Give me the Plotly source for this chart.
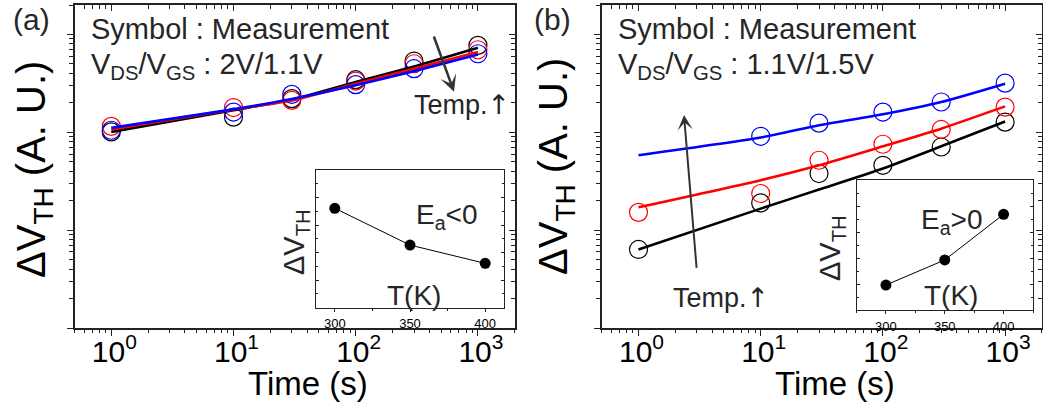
import plotly.graph_objects as go
import math

W, H = 1043, 406

# ---------------- data ----------------
time_s = [1, 10, 30, 100, 300, 1000]
time_b_blue = [10, 30, 100, 300, 1000]

a_meas_black = [1.01, 1.43, 2.21, 3.45, 5.35, 7.73]
a_meas_red = [1.15, 1.79, 2.12, 3.34, 5.02, 6.98]
a_meas_blue = [1.05, 1.61, 2.44, 3.07, 4.47, 6.35]
a_fit_black = [1.01, 1.68, 2.16, 3.26, 4.71, 7.32]
a_fit_red = [1.07, 1.71, 2.12, 3.14, 4.47, 6.60]
a_fit_blue = [1.11, 1.72, 2.19, 3.02, 4.22, 6.25]

b_meas_black = [0.0635, 0.190, 0.379, 0.460, 0.708, 1.27]
b_meas_red = [0.152, 0.237, 0.518, 0.755, 1.07, 1.81]
b_meas_blue = [0.910, 1.24, 1.61, 2.04, 3.18]
b_fit_black = [0.0635, 0.166, 0.260, 0.427, 0.719, 1.29]
b_fit_red = [0.171, 0.324, 0.460, 0.719, 1.09, 1.84]
b_fit_blue = [0.582, 0.883, 1.18, 1.53, 2.04, 3.14]

inset_temp = [300, 350, 400]
inset_a = [0.722, 0.455, 0.322]
inset_b = [0.192, 0.385, 0.736]

x_tick_vals = [1, 10, 100, 1000]
x_tick_text = ['10<sup>0</sup>', '10<sup>1</sup>', '10<sup>2</sup>', '10<sup>3</sup>']
inset_tick_vals = [300, 350, 400]
inset_tick_text = ['300', '350', '400']

# ---------------- helpers ----------------
def px(x):
    return x / W

def py(y):
    return 1 - y / H

FONT = 'Liberation Sans, Arial, sans-serif'
NARROW = 'Liberation Sans Narrow, Arial Narrow, Liberation Sans, sans-serif'
TXT = '#262626'
FRAME = '#222222'
ARROW_UP = '<span style="font-family:DejaVu Sans">↑</span>'

fig = go.Figure()

def add_meas(x, y, color, xa, ya):
    fig.add_trace(go.Scatter(x=x, y=y, mode='markers', xaxis=xa, yaxis=ya,
                             marker=dict(symbol='circle-open', size=18, color=color,
                                         line=dict(width=1.2, color=color)),
                             showlegend=False, hoverinfo='skip'))

def add_fit(x, y, color, xa, ya):
    fig.add_trace(go.Scatter(x=x, y=y, mode='lines', xaxis=xa, yaxis=ya,
                             line=dict(color=color, width=2.6, shape='spline', smoothing=0.6),
                             showlegend=False, hoverinfo='skip'))

# panel (a)
add_meas(time_s, a_meas_black, '#000000', 'x', 'y')
add_meas(time_s, a_meas_red, '#ff0000', 'x', 'y')
add_meas(time_s, a_meas_blue, '#0000ff', 'x', 'y')
add_fit(time_s, a_fit_black, '#000000', 'x', 'y')
add_fit(time_s, a_fit_red, '#ff0000', 'x', 'y')
add_fit(time_s, a_fit_blue, '#0000ff', 'x', 'y')

# panel (b)
add_meas(time_s, b_meas_black, '#000000', 'x2', 'y2')
add_meas(time_s, b_meas_red, '#ff0000', 'x2', 'y2')
add_meas(time_b_blue, b_meas_blue, '#0000ff', 'x2', 'y2')
add_fit(time_s, b_fit_black, '#000000', 'x2', 'y2')
add_fit(time_s, b_fit_red, '#ff0000', 'x2', 'y2')
add_fit(time_s, b_fit_blue, '#0000ff', 'x2', 'y2')

# insets
for xa, ya, vals in [('x3', 'y3', inset_a), ('x4', 'y4', inset_b)]:
    fig.add_trace(go.Scatter(x=inset_temp, y=vals, mode='lines+markers', xaxis=xa, yaxis=ya,
                             line=dict(color='#000000', width=1),
                             marker=dict(size=11, color='#000000'),
                             showlegend=False, hoverinfo='skip'))

# empty traces for mirrored inside-tick axes
fig.add_trace(go.Scatter(x=[], y=[], xaxis='x5', yaxis='y5', showlegend=False))
fig.add_trace(go.Scatter(x=[], y=[], xaxis='x6', yaxis='y6', showlegend=False))

XR = [math.log10(0.5), math.log10(2000)]
YR = [-2, math.log10(20)]
YDOM = [py(328), py(5)]
XDOM_A = [px(74.5), px(514.7)]
XDOM_B = [px(601.7), px(1041.9)]

def main_x(domain, anchor):
    return dict(type='log', range=XR, domain=domain, anchor=anchor,
                showline=True, linecolor=FRAME, linewidth=1.5, mirror=True,
                ticks='outside', ticklen=6, tickwidth=1.2, tickcolor=FRAME,
                tickmode='array', tickvals=x_tick_vals, ticktext=x_tick_text,
                tickfont=dict(family=FONT, size=30, color='#000000'),
                ticklabelstandoff=-10, ticklabelshift=3,
                minor=dict(ticks='outside', ticklen=3.5, tickwidth=1, tickcolor=FRAME, dtick='D1'),
                showgrid=False, zeroline=False, fixedrange=True)

def main_y(anchor):
    return dict(type='log', range=YR, domain=YDOM, anchor=anchor,
                showline=True, linecolor=FRAME, linewidth=1.5, mirror=True,
                ticks='outside', ticklen=6, tickwidth=1.2, tickcolor=FRAME,
                tickmode='linear', tick0=0, dtick=1, showticklabels=False,
                minor=dict(ticks='outside', ticklen=3.5, tickwidth=1, tickcolor=FRAME, dtick='D1'),
                showgrid=False, zeroline=False, fixedrange=True)

def mirror_x(over, anchor):
    return dict(type='log', range=XR, overlaying=over, anchor=anchor, side='top',
                showline=False, ticks='inside', ticklen=6, tickwidth=1.2, tickcolor=FRAME,
                tickmode='array', tickvals=x_tick_vals, showticklabels=False,
                minor=dict(ticks='inside', ticklen=3.5, tickwidth=1, tickcolor=FRAME, dtick='D1'),
                showgrid=False, zeroline=False, fixedrange=True)

def mirror_y(over, anchor):
    return dict(type='log', range=YR, overlaying=over, anchor=anchor, side='right',
                showline=False, ticks='inside', ticklen=6, tickwidth=1.2, tickcolor=FRAME,
                tickmode='linear', tick0=0, dtick=1, showticklabels=False,
                minor=dict(ticks='inside', ticklen=3.5, tickwidth=1, tickcolor=FRAME, dtick='D1'),
                showgrid=False, zeroline=False, fixedrange=True)

def inset_x(domain, anchor, rng):
    return dict(range=rng, domain=domain, anchor=anchor,
                showline=True, linecolor=FRAME, linewidth=1, mirror=True,
                ticks='outside', ticklen=3, tickwidth=1, tickcolor=FRAME,
                tickmode='array', tickvals=inset_tick_vals, ticktext=inset_tick_text,
                tickfont=dict(family=FONT, size=13, color='#000000'),
                ticklabelstandoff=1,
                minor=dict(ticks='outside', ticklen=2, tickwidth=1, tickcolor=FRAME, dtick=25, tick0=300),
                showgrid=False, zeroline=False, fixedrange=True)

def inset_y(domain, anchor):
    return dict(range=[0, 1], domain=domain, anchor=anchor,
                showline=True, linecolor=FRAME, linewidth=1, mirror='ticks',
                ticks='inside', ticklen=3, tickwidth=1, tickcolor=FRAME,
                tickmode='linear', tick0=0, dtick=0.2, showticklabels=False,
                minor=dict(ticks='inside', ticklen=2, tickwidth=1, tickcolor=FRAME, dtick=0.1),
                showgrid=False, zeroline=False, fixedrange=True)

ann = []

def text(x, y, s, size, xanchor='left', yanchor='middle', angle=0, color=TXT, family=FONT):
    ann.append(dict(x=px(x), y=py(y), xref='paper', yref='paper', text=s, showarrow=False,
                    xanchor=xanchor, yanchor=yanchor, textangle=angle,
                    font=dict(family=family, size=size, color=color)))

# panel labels and notes
text(11, 19.5, '(a)', 30)
text(532, 19.5, '(b)', 30)
text(89, 29, 'Symbol : Measurement', 29)
text(616, 29, 'Symbol : Measurement', 29)
text(89, 66, 'V<sub>DS</sub>/V<sub>GS</sub> : 2V/1.1V', 29)
text(616, 66, 'V<sub>DS</sub>/V<sub>GS</sub> : 1.1V/1.5V', 29)
text(412, 105, 'Temp.' + ARROW_UP, 27)
text(671, 297, 'Temp.' + ARROW_UP, 27)

# axis titles
text(307.5, 383, 'Time (s)', 33, xanchor='center', color='#000000')
text(834.5, 383, 'Time (s)', 33, xanchor='center', color='#000000')
text(34, 170, 'ΔV<sub>TH</sub> (A. U.)', 40, xanchor='center', angle=-90, color='#000000', family=NARROW)
text(556, 167, 'ΔV<sub>TH</sub> (A. U.)', 40, xanchor='center', angle=-90, color='#000000', family=NARROW)

# inset texts
text(414, 217, 'E<sub>a</sub><0', 28)
text(919, 221.7, 'E<sub>a</sub>>0', 28)
text(414, 295, 'T(K)', 28, xanchor='center')
text(950.5, 295, 'T(K)', 28, xanchor='center')
text(296, 242, 'ΔV<sub>TH</sub>', 29, xanchor='center', angle=-90)
text(832, 248, 'ΔV<sub>TH</sub>', 29, xanchor='center', angle=-90)

# arrows
ann.append(dict(x=px(454), y=py(91.7), xref='paper', yref='paper', text='', showarrow=True,
                ax=-20.7, ay=-56.7, arrowhead=3, arrowsize=1.1, arrowwidth=2.5, arrowcolor='#333333',
                standoff=0))
ann.append(dict(x=px(684), y=py(115), xref='paper', yref='paper', text='', showarrow=True,
                ax=12.7, ay=154.3, arrowhead=3, arrowsize=1.25, arrowwidth=2, arrowcolor='#333333',
                standoff=0))

fig.update_layout(
    width=W, height=H, autosize=False,
    margin=dict(l=0, r=0, t=0, b=0, pad=0),
    paper_bgcolor='white', plot_bgcolor='white',
    showlegend=False,
    font=dict(family=FONT, color=TXT),
    xaxis=main_x(XDOM_A, 'y'),
    yaxis=main_y('x'),
    xaxis2=main_x(XDOM_B, 'y2'),
    yaxis2=main_y('x2'),
    xaxis3=inset_x([px(316), px(504)], 'y3', [287.5, 412.5]),
    yaxis3=inset_y([py(307.7), py(170)], 'x3'),
    xaxis4=inset_x([px(856.5), px(1033)], 'y4', [275, 425]),
    yaxis4=inset_y([py(310), py(180)], 'x4'),
    xaxis5=mirror_x('x', 'y'),
    yaxis5=mirror_y('y', 'x'),
    xaxis6=mirror_x('x2', 'y2'),
    yaxis6=mirror_y('y2', 'x2'),
    annotations=ann,
)

fig.write_html('out.html')
